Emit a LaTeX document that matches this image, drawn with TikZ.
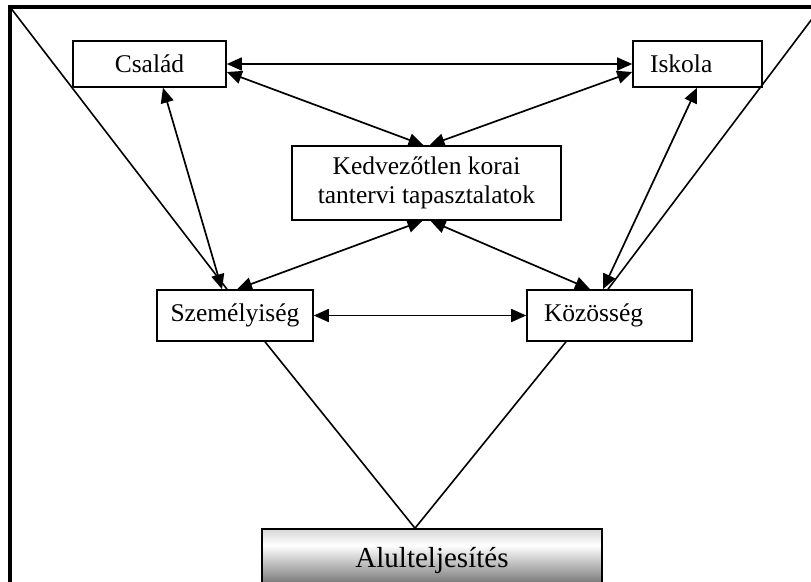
\documentclass[tikz,border=0pt]{standalone}
\usepackage{fontspec}
\setmainfont{Liberation Serif}
\usetikzlibrary{arrows.meta}
% light top edge, white band, darkening towards the bottom
\pgfdeclareverticalshading{alulshade}{100bp}{color(0bp)=(black!65); color(25bp)=(black!65); color(62bp)=(white); color(75bp)=(black!16); color(100bp)=(black!16)}

\begin{document}
\begin{tikzpicture}[x=1pt,y=-1pt,
  box/.style={draw, line width=1.6pt, inner sep=0pt, font=\fontsize{25.5}{29}\selectfont, minimum height=46pt},
  leftbox/.style={box, align=left, inner xsep=17pt},
  link/.style={line width=1.7pt, {Triangle[length=15pt,width=13pt]}-{Triangle[length=15pt,width=13pt]}},
  plain/.style={line width=1.6pt},
  frame/.style={line width=3.5pt, line join=miter}]
\useasboundingbox (0,0) rectangle (811,581);

% outer frame and the two long slanted sides
\coordinate (tl) at (10,7);
\coordinate (tr) at (821,7);
\draw[frame] (10,600) -- (tl) -- (830,7);

% boxes
\node[box, minimum width=153pt] (csalad) at (149.5,64) {Család};
\node[leftbox, text width=95pt] (iskola) at (697.5,64) {Iskola};
\node[box, align=center, minimum width=269pt, minimum height=74pt] (kedv) at (426.5,183) {Kedvezőtlen korai\\tantervi tapasztalatok};
\node[box, minimum width=156pt, minimum height=51pt] (szem) at (235,315.5) {Személyiség};
\node[leftbox, text width=131pt, minimum height=51pt] (koz) at (609.5,315.5) {Közösség};
\node[draw, line width=1.6pt, shade, shading=alulshade, inner sep=0pt, minimum width=340pt, minimum height=63pt, font=\fontsize{29}{33}\selectfont] (alul) at (432,560.5) {Alulteljesítés};

% two-way arrows
\draw[link] (csalad.east) -- (iskola.west);
\draw[link] ([yshift=-8pt]csalad.east) -- ([xshift=-3pt]kedv.north);
\draw[link] ([yshift=-8pt]iskola.west) -- ([xshift=3pt]kedv.north);
\draw[link] ([xshift=13.5pt]csalad.south) -- ([xshift=-13pt]szem.north);
\draw[link] ([xshift=-0.5pt]iskola.south) -- ([xshift=-6.5pt]koz.north);
\draw[link] ([xshift=-4pt]kedv.south) -- ([xshift=2pt]szem.north);
\draw[link] ([xshift=4pt]kedv.south) -- ([xshift=-19.5pt]koz.north);
\draw[link] (szem.east) -- (koz.west);

% slanted sides of the funnel
\draw[plain] (tl) -- ([xshift=-8pt]szem.north);
\draw[plain] (tr) -- ([xshift=-1.5pt]koz.north);

% lines down to the result
\draw[plain] ([xshift=30pt]szem.south) -- ([xshift=-17pt]alul.north);
\draw[plain] ([xshift=-43.5pt]koz.south) -- ([xshift=-17pt]alul.north);
\end{tikzpicture}
\end{document}
